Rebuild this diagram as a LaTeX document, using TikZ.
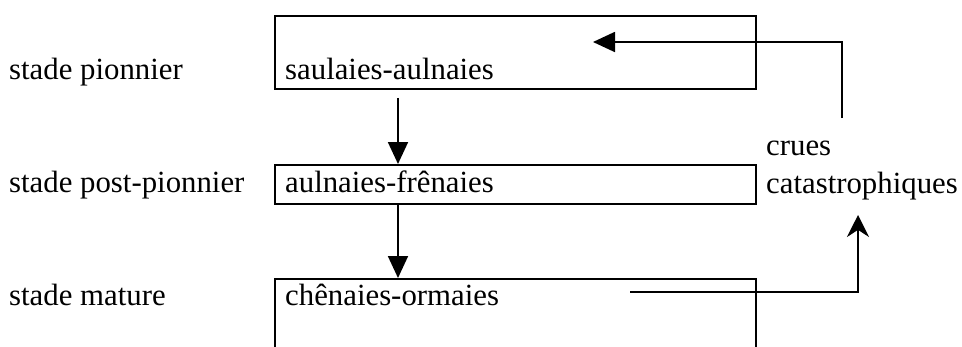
\documentclass[tikz,border=0pt]{standalone}
\usepackage{fontspec}
\setmainfont{Liberation Serif}
\usetikzlibrary{arrows.meta}
\begin{document}
\begin{tikzpicture}[x=1pt,y=-1pt,
  box/.style={draw, line width=1.8pt, inner sep=0pt, anchor=north west, rectangle},
  lbl/.style={inner sep=0pt, anchor=base west, font=\fontsize{30.8}{36}\selectfont},
  conn/.style={line width=1.8pt},
  tri/.style={conn, -{Triangle[length=22pt,width=20pt]}},
  stl/.style={conn, -{Stealth[length=22pt,width=22pt]}}]
\useasboundingbox (0,0) rectangle (962,346);
\clip (0,0) rectangle (962,346);
% left labels
\node[lbl] (l1) at (9,79) {stade pionnier};
\node[lbl] (l2) at (9,192) {stade post-pionnier};
\node[lbl] (l3) at (9,305) {stade mature};
% boxes
\node[box, minimum width=481pt, minimum height=73pt] (b1) at (274,15) {};
\node[box, minimum width=481pt, minimum height=39pt] (b2) at (274,164) {};
\node[box, minimum width=481pt, minimum height=120pt] (b3) at (274,278) {};
% box texts
\node[lbl] (t1) at (285,79) {saulaies-aulnaies};
\node[lbl] (t2) at (285,192) {aulnaies-frênaies};
\node[lbl] (t3) at (285,305) {chênaies-ormaies};
% right labels
\node[lbl] (c1) at (766,155) {crues};
\node[lbl] (c2) at (766,193) {catastrophiques};
% connectors
\coordinate (ax) at (398,0);
\draw[tri, shorten <=8pt] (b1.south -| ax) -- (b2.north -| ax);
\draw[tri] (b2.south -| ax) -- (b3.north -| ax);
\coordinate (s3) at (630,292);
\coordinate (e3) at (858,215);
\draw[stl] (s3) -| (e3);
\coordinate (s1) at (842,118);
\coordinate (e1) at (593,42);
\draw[tri] (s1) |- (e1);
\end{tikzpicture}
\end{document}
